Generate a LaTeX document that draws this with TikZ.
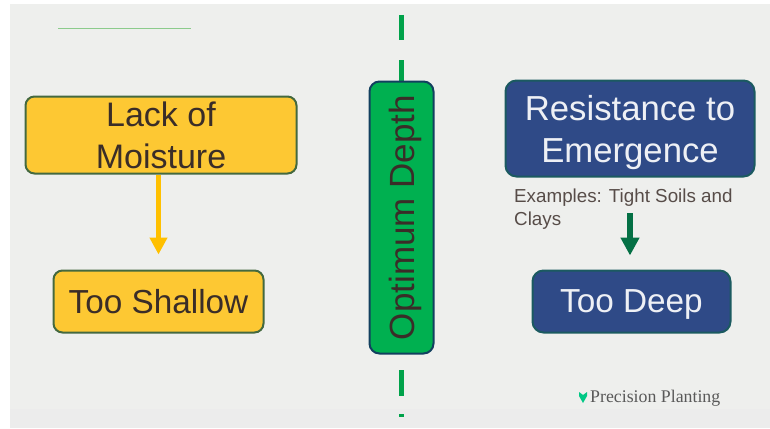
\documentclass[tikz,border=0pt]{standalone}
\usepackage{fontspec}
\setmainfont{Liberation Sans}
\newfontfamily\logofont{Liberation Serif}
\usetikzlibrary{arrows.meta}
\definecolor{slide}{HTML}{EEEFED}
\definecolor{band}{HTML}{ECECEC}
\definecolor{amber}{HTML}{FDC833}
\definecolor{amberline}{HTML}{FFC000}
\definecolor{amberedge}{HTML}{44693F}
\definecolor{navy}{HTML}{2F4A87}
\definecolor{navyedge}{HTML}{1B5A60}
\definecolor{leaf}{HTML}{00B050}
\definecolor{leafedge}{HTML}{12405F}
\definecolor{pine}{HTML}{047045}
\definecolor{inktext}{HTML}{3A2D28}
\tikzset{
    yellowbox/.style={draw=amberedge,fill=amber,line width=2pt,rounded corners=9pt,text=inktext,align=center,inner sep=0pt,text depth=0pt},
    bluebox/.style={draw=navyedge,fill=navy,line width=2pt,rounded corners=11pt,text=white!92!navy,align=center,inner sep=0pt,text depth=0pt},
    bigtext/.style={font=\fontsize{#1}{42}\selectfont}
}

\begin{document}
\begin{tikzpicture}[x=1pt,y=-1pt]
            \useasboundingbox (0,0) rectangle (770,428);
            \fill [slide] (10,4) rectangle (770,409);
            \fill [band] (10,409) rectangle (770,428);
            %rule at the top left
            \draw [green!55!black!45,line width=1pt] (58,29) -- (191,29);
            %centre line behind the depth box
            \foreach \ya/\yb in {15/40,60/81,370/396,414/417}
                \draw [leaf!92!black,line width=5pt] (401,\ya) -- (401,\yb);
            \node (lack) [yellowbox,bigtext=34,minimum width=271pt,minimum height=77pt] at (161,135) {Lack of\\Moisture};
            \node (shallow) [yellowbox,bigtext=33.3,minimum width=210pt,minimum height=62pt] at (158.5,301.5) {Too Shallow};
            \node (optimum) [draw=leafedge,fill=leaf,line width=2pt,rounded corners=10pt,text=inktext,inner sep=0pt,text depth=0pt,bigtext=35,minimum width=272pt,minimum height=64pt,rotate=90] at (401.5,217.5) {Optimum Depth};
            \node (resist) [bluebox,bigtext=34.7,minimum width=249pt,minimum height=96pt] at (630,128.5) {Resistance to\\Emergence};
            \node (examples) [anchor=north west,text=inktext!85!white,align=left,inner sep=0pt,font=\fontsize{18.8}{23}\selectfont] at (514,189) {Examples: Tight Soils and\\Clays};
            \node (deep) [bluebox,bigtext=33.3,minimum width=198pt,minimum height=62pt] at (631.5,301.5) {Too Deep};
            \coordinate (deeptop) at (630,213);
            \draw [-{Triangle[length=17pt,width=17pt]},amberline,line width=5pt,shorten >=15pt] (lack.south -| shallow.north) -- (shallow.north);
            \draw [-{Triangle[length=18pt,width=18pt]},pine,line width=5.5pt,shorten >=14pt] (deeptop) -- (deeptop |- deep.north);
            %logo mark and name
            \fill [leaf!70!cyan] (579,392) -- (583,395) -- (587,392) -- (587,396) -- (583,403) -- (579,396) -- cycle;
            \node (logo) [anchor=west,text=black!65,inner sep=0pt,font=\logofont\fontsize{17.8}{20}\selectfont] at (590,398) {Precision Planting};
        \end{tikzpicture}
\end{document}
